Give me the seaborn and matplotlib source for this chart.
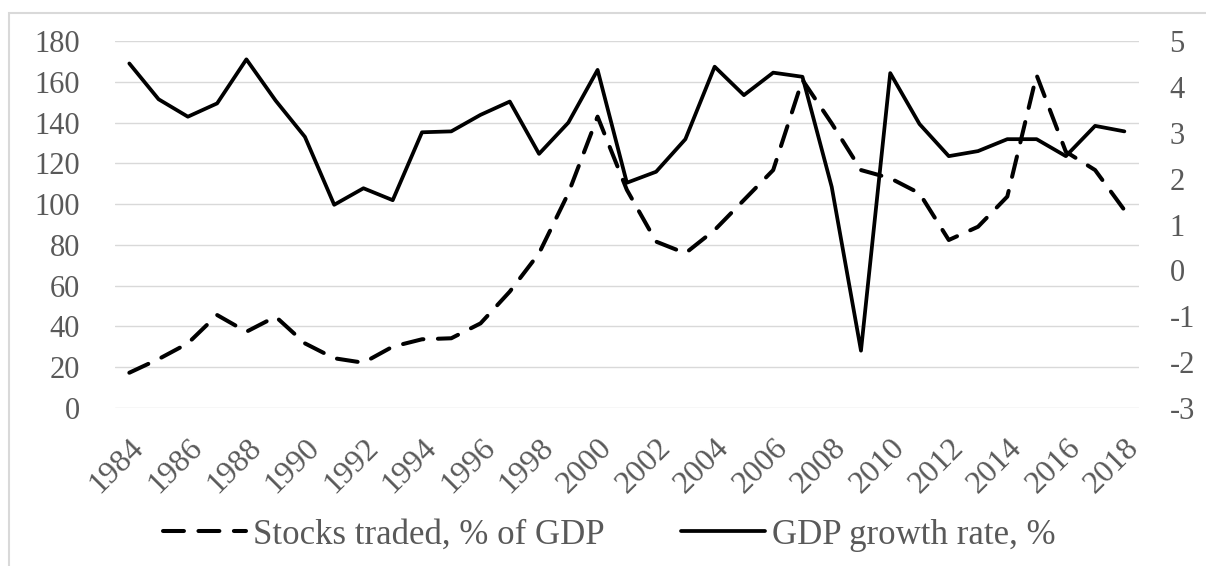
import numpy as np
import pandas as pd
import matplotlib.pyplot as plt
import seaborn as sns
from matplotlib.patches import Rectangle

sns.set_theme(style="white")
plt.rcParams['font.family'] = ['Liberation Serif', 'DejaVu Serif']
plt.rcParams['axes.unicode_minus'] = False

years = list(range(1984, 2019))
stocks_traded = [17.3, 24.0, 31.7, 45.6, 37.4, 44.8, 31.7, 24.4, 22.2, 30.1,
                 33.7, 34.2, 41.5, 57.1, 75.9, 105.3, 142.9, 107.0, 81.6, 75.9,
                 87.3, 102.0, 116.7, 160.9, 139.6, 116.7, 112.7, 105.3, 82.4, 88.9,
                 103.7, 163.3, 125.7, 116.7, 97.1]
gdp_growth = [4.51, 3.73, 3.35, 3.64, 4.60, 3.70, 2.91, 1.43, 1.79, 1.53,
              3.01, 3.03, 3.39, 3.68, 2.54, 3.22, 4.37, 1.91, 2.15, 2.86,
              4.44, 3.82, 4.31, 4.22, 1.82, -1.75, 4.30, 3.19, 2.49, 2.60,
              2.86, 2.86, 2.49, 3.15, 3.03]

df = pd.DataFrame({'pos': np.arange(len(years)), 'Year': years,
                   'Stocks': stocks_traded, 'GDP': gdp_growth})

fig = plt.figure(figsize=(12.06, 5.66), dpi=100)
fig.patches.append(Rectangle((9 / 1206, -0.1), 1.2, 1 - 13 / 566 + 0.1, transform=fig.transFigure,
                             fill=False, edgecolor='#d9d9d9', linewidth=1.5, zorder=0))
ax = fig.add_axes([114.7 / 1206, 1 - 408 / 566, (1139 - 114.7) / 1206, 367 / 566])
ax2 = ax.twinx()

sns.lineplot(data=df, x='pos', y='Stocks', ax=ax, color='black', linewidth=2.9,
             label='Stocks traded, % of GDP', legend=False)
ax.lines[-1].set_dashes([5.2, 3.6])
ax.lines[-1].set_dash_capstyle('round')
sns.lineplot(data=df, x='pos', y='GDP', ax=ax2, color='black', linewidth=2.7,
             label='GDP growth rate, %', legend=False)

ax.set_xlim(-0.5, len(years) - 0.5)
ax.set_ylim(0, 180)
ax.set_yticks(range(0, 181, 20))
ax2.set_ylim(-3, 5)
ax2.set_yticks(range(-3, 6))
ax.grid(axis='y', color='#d9d9d9', linewidth=1)
ax.set_xticks(df['pos'][::2])
ax.set_xticklabels(years[::2], rotation=45, ha='right', rotation_mode='anchor')
ax.set_xlabel('')
ax.set_ylabel('')
ax2.set_ylabel('')
for a in (ax, ax2):
    for s in a.spines.values():
        s.set_visible(False)
    a.tick_params(length=0, labelsize=22, labelcolor='#595959')
ax.tick_params(axis='y', pad=25)
ax.tick_params(axis='x', pad=18, labelsize=23)
ax2.tick_params(axis='y', pad=22)

h1, l1 = ax.get_legend_handles_labels()
h2, l2 = ax2.get_legend_handles_labels()
fig.legend(h1 + h2, l1 + l2, loc='center', bbox_to_anchor=(0.505, 1 - 535 / 566), ncol=2,
           frameon=False, fontsize=25, handlelength=2.4, handletextpad=0.2, columnspacing=2.2,
           labelcolor='#595959')

fig.savefig('out.png', dpi=100)
